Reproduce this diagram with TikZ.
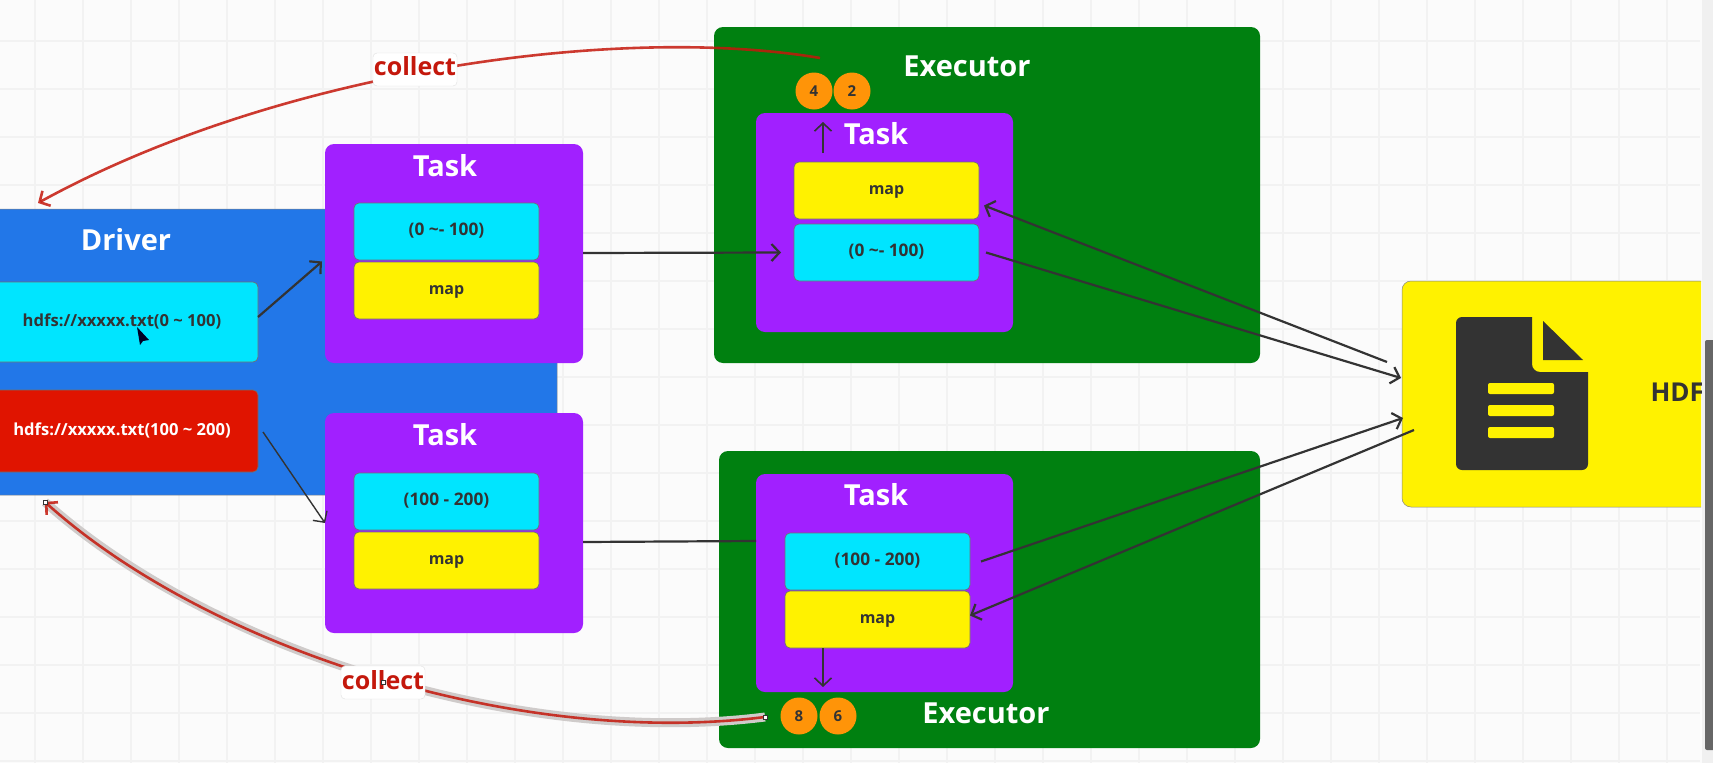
\documentclass[tikz,border=0pt]{standalone}
\usepackage{fontspec}
\setmainfont{Open Sans}
\usetikzlibrary{arrows.meta,positioning,calc}
\definecolor{PageGray}{HTML}{FBFBFB}
\definecolor{GridGray}{HTML}{F2F2F2}
\definecolor{DriverBlue}{HTML}{2277E8}
\definecolor{TaskPurple}{HTML}{A120FF}
\definecolor{ExecGreen}{HTML}{008010}
\definecolor{CellCyan}{HTML}{00E5FF}
\definecolor{CellYellow}{HTML}{FFF200}
\definecolor{SplitRed}{HTML}{E01400}
\definecolor{BadgeOrange}{HTML}{FF9408}
\definecolor{LineDark}{HTML}{333333}
\definecolor{CollectRed}{HTML}{C4180C}
\definecolor{HaloGray}{HTML}{CFCBCA}
\definecolor{ScrollGray}{HTML}{666666}

\begin{document}
\begin{tikzpicture}[
	x=1pt,
	y=-1pt,
	bigbox/.style={
		anchor=north west,
		rounded corners=9pt,
		inner sep=0pt,
		outer sep=0pt
	},
	cellbox/.style={
		anchor=north west,
		draw=LineDark!70,
		line width=0.7pt,
		rounded corners=5pt,
		minimum width=185pt,
		minimum height=57pt,
		inner sep=0pt,
		outer sep=0pt,
		text height=11pt,
		text depth=3pt,
		font=\fontsize{16}{18}\selectfont\bfseries,
		text=LineDark
	},
	rangebox/.style={
		cellbox,
		fill=CellCyan,
		font=\fontsize{17.3}{18}\selectfont\bfseries
	},
	titletext/.style={
		font=\fontsize{29}{32}\selectfont\bfseries,
		text=white
	},
	badge/.style={
		circle,
		fill=BadgeOrange,
		minimum size=37pt,
		inner sep=0pt,
		font=\fontsize{15}{18}\selectfont\bfseries,
		text=LineDark
	},
	flow/.style={
		-{Straight Barb[length=8pt,width=17pt]},
		line width=2.2pt,
		draw=LineDark
	},
	collect/.style={
		-{Straight Barb[length=8pt,width=17pt]},
		line width=2.6pt,
		draw=CollectRed,
		opacity=0.85
	},
	collecttag/.style={
		fill=white,
		draw=LineDark!15,
		rounded corners=4pt,
		minimum width=84pt,
		minimum height=33pt,
		inner sep=0pt,
		text depth=6pt,
		font=\fontsize{25}{28}\selectfont\bfseries,
		text=CollectRed
	},
	grip/.style={
		rectangle,
		fill=white,
		draw=LineDark,
		line width=0.5pt,
		minimum size=4pt,
		inner sep=0pt
	}
]

\useasboundingbox (0,0) rectangle (1713,763);
\fill[PageGray] (0,0) rectangle (1713,763);
\foreach \gx in {35,83,...,1700}
	\draw[GridGray, line width=1.5pt] (\gx,0) -- (\gx,763);
\foreach \gy in {41,89,...,763}
	\draw[GridGray, line width=1.5pt] (0,\gy) -- (1700,\gy);

\fill[black!6] (1702,0) rectangle (1713,763);
\fill[ScrollGray, rounded corners=2pt] (1705,340) rectangle (1716,750);

\node[bigbox, fill=DriverBlue, draw=LineDark!60, line width=0.5pt, minimum width=600pt, minimum height=286pt] (driver) at (-43,209) {};
\node[titletext] (driverTitle) at (126,240) {Driver};

\node[cellbox, fill=CellCyan, minimum width=288pt, minimum height=80pt] (hdfsOne) at (-30,282) {};
\node[font=\fontsize{16.6}{18}\selectfont\bfseries, text=LineDark] (hdfsOneText) at (122,321) {hdfs://xxxxx.txt(0 \textasciitilde{} 100)};
\node[cellbox, fill=SplitRed, minimum width=288pt, minimum height=82pt] (hdfsTwo) at (-30,390) {};
\node[font=\fontsize{16.6}{18}\selectfont\bfseries, text=white] (hdfsTwoText) at (122,430) {hdfs://xxxxx.txt(100 \textasciitilde{} 200)};

\draw[fill=black!85!blue, draw=none] (137,327) -- (149,340) -- (143,341) -- (140,345) -- cycle;

\node[bigbox, fill=TaskPurple, minimum width=258pt, minimum height=219pt] (taskOne) at (325,144) {};
\node[titletext] (taskOneTitle) at (445,166) {Task};
\node[rangebox] (taskOneRange) at (354,203) {(0 \textasciitilde- 100)};
\node[cellbox, fill=CellYellow, below=2pt of taskOneRange.south west, anchor=north west] (taskOneMap) {map};

\node[bigbox, fill=TaskPurple, minimum width=258pt, minimum height=220pt] (taskTwo) at (325,413) {};
\node[titletext] (taskTwoTitle) at (445,435) {Task};
\node[rangebox] (taskTwoRange) at (354,473) {(100 - 200)};
\node[cellbox, fill=CellYellow, below=2pt of taskTwoRange.south west, anchor=north west] (taskTwoMap) {map};

\node[bigbox, fill=ExecGreen, minimum width=546pt, minimum height=336pt] (execOne) at (714,27) {};
\node[titletext] (execOneTitle) at (967,66) {Executor};
\node[bigbox, fill=TaskPurple, minimum width=257pt, minimum height=219pt] (execOneTask) at (756,113) {};
\node[titletext] (execOneTaskTitle) at (876,134) {Task};
\node[cellbox, fill=CellYellow] (execOneMap) at (794,162) {map};
\node[rangebox, below=5pt of execOneMap.south west, anchor=north west] (execOneRange) {(0 \textasciitilde- 100)};
\node[badge] (badgeFour) at (814,91) {4};
\node[badge] (badgeTwo) at (852,91) {2};

\node[bigbox, fill=ExecGreen, minimum width=541pt, minimum height=297pt] (execTwo) at (719,451) {};
\node[titletext] (execTwoTitle) at (986,713) {Executor};
\node[bigbox, fill=TaskPurple, minimum width=257pt, minimum height=218pt] (execTwoTask) at (756,474) {};
\node[titletext] (execTwoTaskTitle) at (876,495) {Task};
\node[rangebox] (execTwoRange) at (785,533) {(100 - 200)};
\node[cellbox, fill=CellYellow, below=1pt of execTwoRange.south west, anchor=north west] (execTwoMap) {map};
\node[badge] (badgeEight) at (799,716) {8};
\node[badge] (badgeSix) at (838,716) {6};

\begin{scope}
\clip (0,0) rectangle (1701,763);
\node[bigbox, fill=CellYellow, draw=LineDark!60, line width=0.5pt, minimum width=330pt, minimum height=226pt] (hdfs) at (1402,281) {};
\node[anchor=west, font=\fontsize{26}{30}\selectfont\bfseries, text=LineDark] (hdfsTitle) at (1647,392) {HDF};
\end{scope}

\fill[LineDark, rounded corners=6pt] (1456,317) [sharp corners]-- (1532,317) [rounded corners=8pt]-- (1532,372) [sharp corners]-- (1588,372) [rounded corners=6pt]-- (1588,470) -- (1456,470) -- cycle;
\fill[LineDark] (1543,321) -- (1583,360) -- (1543,360) -- cycle;
\foreach \by in {383,405,427}
	\fill[CellYellow, rounded corners=2pt] (1488,\by) rectangle (1554,\by+11);

\draw[flow] (hdfsOne.east |- 0,317) -- ([xshift=-3pt,yshift=-8pt]taskOne.west);
\draw[flow, line width=1.4pt] ([xshift=5pt,yshift=-1pt]hdfsTwo.east) -- (taskTwo.west |- 0,523);
\draw[flow] (taskOne.east |- 0,253) -- ([xshift=-13pt]execOneRange.west);
\draw[LineDark, line width=2.2pt] (taskTwo.east |- 0,542) -- (execTwoTask.west |- 0,541);
\draw[flow] ([xshift=7pt]execOneRange.east) -- ([xshift=-1pt,yshift=16pt]hdfs.west);
\draw[flow] ([xshift=-15pt,yshift=32pt]hdfs.west) -- ([xshift=5pt,yshift=-15pt]execOneMap.east);
\draw[flow] ([xshift=11pt]execTwoRange.east) -- ([xshift=1pt,yshift=-24pt]hdfs.west);
\draw[flow] ([xshift=12pt,yshift=-36pt]hdfs.west) -- ([yshift=4pt]execTwoMap.east);
\draw[flow, line width=1.6pt] (823,153) -- (823,122);
\draw[flow, line width=1.6pt] (execTwoMap.south -| 823,0) -- (823,687);

\coordinate (collectOneStart) at (820,58);
\coordinate (collectOneEnd) at ($(driver.north west)+(81,-6)$);
\coordinate (collectTwoStart) at (765,717);
\coordinate (collectTwoEnd) at ($(driver.south west)+(88,7)$);

\draw[collect] (collectOneStart) .. controls (620,24) and (280,70) .. (collectOneEnd);
\draw[collect, preaction={draw=HaloGray, line width=9pt, opacity=1, -}] (collectTwoStart) .. controls (520,748) and (210,650) .. (collectTwoEnd);

\node[collecttag] (collectOne) at (415,69.5) {collect};
\node[collecttag] (collectTwo) at (383,682.5) {collect};

\node[grip] (gripStart) at (collectTwoStart) {};
\node[grip] (gripEnd) at (collectTwoEnd) {};
\node[grip] (gripTag) at (collectTwo) {};

\end{tikzpicture}
\end{document}
